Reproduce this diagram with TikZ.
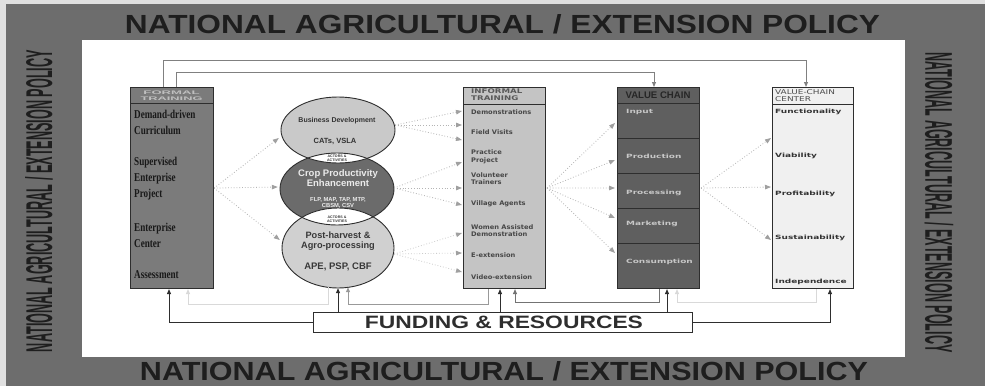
\documentclass[tikz,border=0pt]{standalone}
\usepackage{graphicx}
\usepackage{fontspec}
\setmainfont{Liberation Sans}
\newfontfamily\serifc[FakeStretch=0.76]{Liberation Serif}
\newfontfamily\dvsi[FakeStretch=1.06]{DejaVu Sans}
\newfontfamily\dvsw[FakeStretch=1.55]{DejaVu Sans}
\newfontfamily\dvsh[FakeStretch=1.35]{DejaVu Sans}
\usetikzlibrary{arrows.meta,calc,shapes.geometric}
\definecolor{band}{HTML}{6D6D6D}
\definecolor{bandtxt}{HTML}{1E1E1E}
\definecolor{edge}{HTML}{2E2E2E}
\definecolor{ftfill}{HTML}{7B7B7B}
\definecolor{inffill}{HTML}{C4C4C4}
\definecolor{vcfill}{HTML}{5F5F5F}
\definecolor{vccfill}{HTML}{F0F0F0}
\definecolor{ell1}{HTML}{C9C9C9}
\definecolor{ell2}{HTML}{6B6B6B}
\definecolor{ell3}{HTML}{D0D0D0}
\definecolor{dotgray}{HTML}{B4B4B4}
\definecolor{tipgray}{HTML}{A0A0A0}
\tikzset{
  colbox/.style={draw=edge, line width=1.1pt, anchor=north west, minimum width=83pt, minimum height=201pt, inner sep=0pt},
  txt/.style={inner sep=0pt, anchor=west, align=left},
  dotarr/.style={draw=dotgray, dotted, line width=0.8pt, -{Triangle[length=6pt,width=4.5pt,color=tipgray]}},
  darkarr/.style={draw=edge, line width=0.9pt, -{Triangle[length=5pt,width=4pt]}},
  toparr/.style={draw=black!50, line width=0.9pt, -{Triangle[length=5pt,width=4pt]}},
}
\begin{document}
\begin{tikzpicture}[x=1pt,y=-1pt]
\useasboundingbox (0,0) rectangle (985,386);
\fill[black!12] (0,0) rectangle (985,386);
\fill[band] (6,4) rectangle (985,386);
\fill[white] (82,40) rectangle (905,357);
% band texts
\node[inner sep=0pt, text=bandtxt] (ptop) at (502.5,24) {\resizebox{755pt}{19pt}{\bfseries NATIONAL AGRICULTURAL / EXTENSION POLICY}};
\node[inner sep=0pt, text=bandtxt] (pbot) at (504,371) {\resizebox{728pt}{19pt}{\bfseries NATIONAL AGRICULTURAL / EXTENSION POLICY}};
\node[inner sep=0pt, text=bandtxt, rotate=90] (pleft) at (39,201) {\resizebox{302pt}{27pt}{\bfseries NATIONAL AGRICULTURAL / EXTENSION POLICY}};
\node[inner sep=0pt, text=bandtxt, rotate=-90] (pright) at (939,202.5) {\resizebox{300pt}{28pt}{\bfseries NATIONAL AGRICULTURAL / EXTENSION POLICY}};

% FORMAL TRAINING
\node[colbox, fill=ftfill] (ft) at (130,87) {};
\draw[edge, line width=1pt] ($(ft.north west)+(0,16)$) -- ($(ft.north east)+(0,16)$);
\node[inner sep=0pt, text=black!25] (fth1) at (171.5,93) {\resizebox{56pt}{3.6pt}{\bfseries FORMAL}};
\node[inner sep=0pt, text=black!25] (fth2) at (171.5,98.3) {\resizebox{62pt}{3.6pt}{\bfseries TRAINING}};
\begin{scope}[every node/.style={txt, text=black!90, font=\serifc\bfseries\fontsize{12}{16.3}\selectfont}]
\node (f1) at (134,122.5) {Demand-driven\\Curriculum};
\node (f2) at (134,178.5) {Supervised\\Enterprise\\Project};
\node (f3) at (134,235.5) {Enterprise\\Center};
\node (f4) at (134,275) {Assessment};
\end{scope}

% ellipses
\node[ellipse, minimum width=114pt, minimum height=66pt, inner sep=0pt] (bd) at (338,130) {};
\node[ellipse, minimum width=114pt, minimum height=72pt, inner sep=0pt] (cp) at (337,189) {};
\node[ellipse, minimum width=112pt, minimum height=80pt, inner sep=0pt] (ph) at (338,248) {};
\fill[ell1] (338,130) ellipse [x radius=57pt, y radius=33pt];
\fill[ell3] (338,248) ellipse [x radius=56pt, y radius=40pt];
\fill[ell2] (337,189) ellipse [x radius=57pt, y radius=36pt];
\begin{scope}
\clip (338,130) ellipse [x radius=57pt, y radius=33pt];
\fill[white] (337,189) ellipse [x radius=57pt, y radius=36pt];
\end{scope}
\begin{scope}
\clip (338,248) ellipse [x radius=56pt, y radius=40pt];
\fill[white] (337,189) ellipse [x radius=57pt, y radius=36pt];
\end{scope}
\draw[edge, line width=0.9pt] (338,130) ellipse [x radius=57pt, y radius=33pt];
\draw[edge, line width=0.9pt] (337,189) ellipse [x radius=57pt, y radius=36pt];
\draw[edge, line width=0.9pt] (338,248) ellipse [x radius=56pt, y radius=40pt];
\node[inner sep=0pt, text=black!80, font=\bfseries\fontsize{7}{8}\selectfont] (bdt) at (337,121) {Business Development};
\node[inner sep=0pt, text=black!80, font=\bfseries\fontsize{7.5}{8}\selectfont] (bdc) at (335,141) {CATs, VSLA};
\node[inner sep=0pt, text=black!80, align=center, font=\bfseries\fontsize{3.6}{4.4}\selectfont] (l1) at (337,158) {ACTORS \&\\ACTIVITIES};
\node[inner sep=0pt, text=black!8, align=center, font=\bfseries\fontsize{9.5}{10.5}\selectfont] (cpt) at (338,178) {Crop Productivity\\Enhancement};
\node[inner sep=0pt, text=black!8, align=center, font=\bfseries\fontsize{5.8}{6.4}\selectfont] (cpc) at (338,203) {FLP, MAP, TAP, MTP,\\CBSM, CSV};
\node[inner sep=0pt, text=black!80, align=center, font=\bfseries\fontsize{3.6}{4.4}\selectfont] (l2) at (337,219.5) {ACTORS \&\\ACTIVITIES};
\node[inner sep=0pt, text=black!78, align=center, font=\bfseries\fontsize{9.2}{10.5}\selectfont] (pht) at (338,241) {Post-harvest \&\\Agro-processing};
\node[inner sep=0pt, text=black!78, font=\bfseries\fontsize{9.5}{10}\selectfont] (phc) at (338,267) {APE, PSP, CBF};

% INFORMAL TRAINING
\node[colbox, fill=inffill, minimum width=82pt] (inf) at (463,87) {};
\draw[edge, line width=1pt] ($(inf.north west)+(0,17)$) -- ($(inf.north east)+(0,17)$);
\node[txt, text=black!65, font=\dvsh\bfseries\fontsize{6.4}{6.8}\selectfont] (infh) at (471,95) {INFORMAL\\TRAINING};
\begin{scope}[every node/.style={txt, text=black!72, font=\dvsi\bfseries\fontsize{6.3}{7.6}\selectfont}]
\node (i1) at (471,112) {Demonstrations};
\node (i2) at (471,132) {Field Visits};
\node (i3) at (471,157) {Practice\\Project};
\node (i4) at (471,178.5) {Volunteer\\Trainers};
\node (i5) at (471,204) {Village Agents};
\node (i6) at (471,230.5) {Women Assisted\\Demonstration};
\node (i7) at (471,255) {E-extension};
\node (i8) at (471,277) {Video-extension};
\end{scope}

% VALUE CHAIN
\node[colbox, fill=vcfill, minimum width=82pt] (vc) at (617,87) {};
\foreach \yy in {16,51,86,121,156} \draw[edge, line width=1pt] ($(vc.north west)+(0,\yy)$) -- ($(vc.north east)+(0,\yy)$);
\node[inner sep=0pt, text=black!85, font=\bfseries\fontsize{9.6}{10}\selectfont] (vch) at (658,95.5) {VALUE CHAIN};
\begin{scope}[every node/.style={txt, text=black!22, font=\dvsw\bfseries\fontsize{5.8}{7}\selectfont}]
\node (v1) at (626,112) {Input};
\node (v2) at (626,156) {Production};
\node (v3) at (626,193) {Processing};
\node (v4) at (626,224) {Marketing};
\node (v5) at (626,262) {Consumption};
\end{scope}

% VALUE-CHAIN CENTER
\node[colbox, fill=vccfill, minimum width=81pt] (vcc) at (772,87) {};
\draw[edge, line width=1pt] ($(vcc.north west)+(0,17)$) -- ($(vcc.north east)+(0,17)$);
\node[txt, text=black!70, font=\dvsh\fontsize{6.6}{7.6}\selectfont] (vcch) at (775,95.5) {VALUE-CHAIN\\CENTER};
\begin{scope}[every node/.style={txt, text=black!80, font=\dvsw\bfseries\fontsize{5.8}{7}\selectfont}]
\node (c1) at (775,112) {Functionality};
\node (c2) at (775,156) {Viability};
\node (c3) at (775,194) {Profitability};
\node (c4) at (775,238) {Sustainability};
\node (c5) at (775,282) {Independence};
\end{scope}

% FUNDING
\node[draw=edge, line width=1pt, fill=white, minimum width=379pt, minimum height=20pt, inner sep=0pt] (fund) at (502.5,322) {};
\node[inner sep=0pt, text=black!82] (fundt) at (504,322) {\resizebox{278pt}{12.5pt}{\bfseries FUNDING \& RESOURCES}};

% dotted arrows
\draw[dotarr] (ft.east) -- ($(bd.west)+(-2,8)$);
\draw[dotarr] (ft.east) -- ($(cp.west)+(-2,-2)$);
\draw[dotarr] (ft.east) -- ($(ph.west)+(-2,-8)$);
\foreach \ty in {24,38,53} \draw[dotarr] ($(bd.east)+(0,-5)$) -- ($(inf.north west)+(-1,\ty)$);
\foreach \ty in {75,101,118} \draw[dotarr] ($(cp.east)+(0,-1)$) -- ($(inf.north west)+(-1,\ty)$);
\foreach \ty in {146,166,185} \draw[dotarr, draw=black!20] ($(ph.east)+(0,6)$) -- ($(inf.north west)+(-1,\ty)$);
\foreach \ty in {36,73,101,131,166} \draw[dotarr] ($(inf.east)+(1,0)$) -- ($(vc.north west)+(-2,\ty)$);
\foreach \ty in {51,100,153} \draw[dotarr] ($(vc.east)+(1,0)$) -- ($(vcc.north west)+(-1,\ty)$);

% top connectors
\draw[toparr] ($(ft.north west)+(33,0)$) -- ++(0,-27) -| ($(vcc.north west)+(34,0)$);
\draw[toparr] ($(ft.north west)+(46,0)$) -- ++(0,-15) -| ($(vc.north west)+(37,0)$);

% bottom feedback connectors
\draw[line width=0.9pt, draw=black!15, -{Triangle[length=5pt,width=4pt]}] ($(ph.south)+(-10,-1)$) |- ($(ft.south west)+(58,15)$) -- ($(ft.south west)+(58,0)$);
\draw[line width=0.9pt, draw=black!40, -{Triangle[length=5pt,width=4pt]}] ($(inf.south west)+(25,0)$) -- ++(0,15) -| ($(ph.south)+(10,-1)$);
\draw[line width=0.9pt, draw=black!55, -{Triangle[length=5pt,width=4pt]}] ($(vc.south west)+(42,0)$) -- ++(0,13) -| ($(inf.south west)+(52,0)$);
\draw[line width=0.9pt, draw=black!15, -{Triangle[length=5pt,width=4pt]}] ($(vcc.south west)+(44,0)$) -- ++(0,13) -| ($(vc.south west)+(60,0)$);

% funding arrows
\coordinate (ftin) at ($(ft.south west)+(39,0)$);
\coordinate (infin) at ($(inf.south west)+(37,0)$);
\coordinate (vcin) at ($(vc.south west)+(50,0)$);
\coordinate (vccin) at ($(vcc.south west)+(58,0)$);
\draw[darkarr] (fund.west) -| (ftin);
\draw[darkarr] (fund.north -| ph.south) -- (ph.south);
\draw[darkarr] (fund.north -| infin) -- (infin);
\draw[darkarr] (fund.north -| vcin) -- (vcin);
\draw[darkarr] (fund.east) -| (vccin);
\end{tikzpicture}
\end{document}
